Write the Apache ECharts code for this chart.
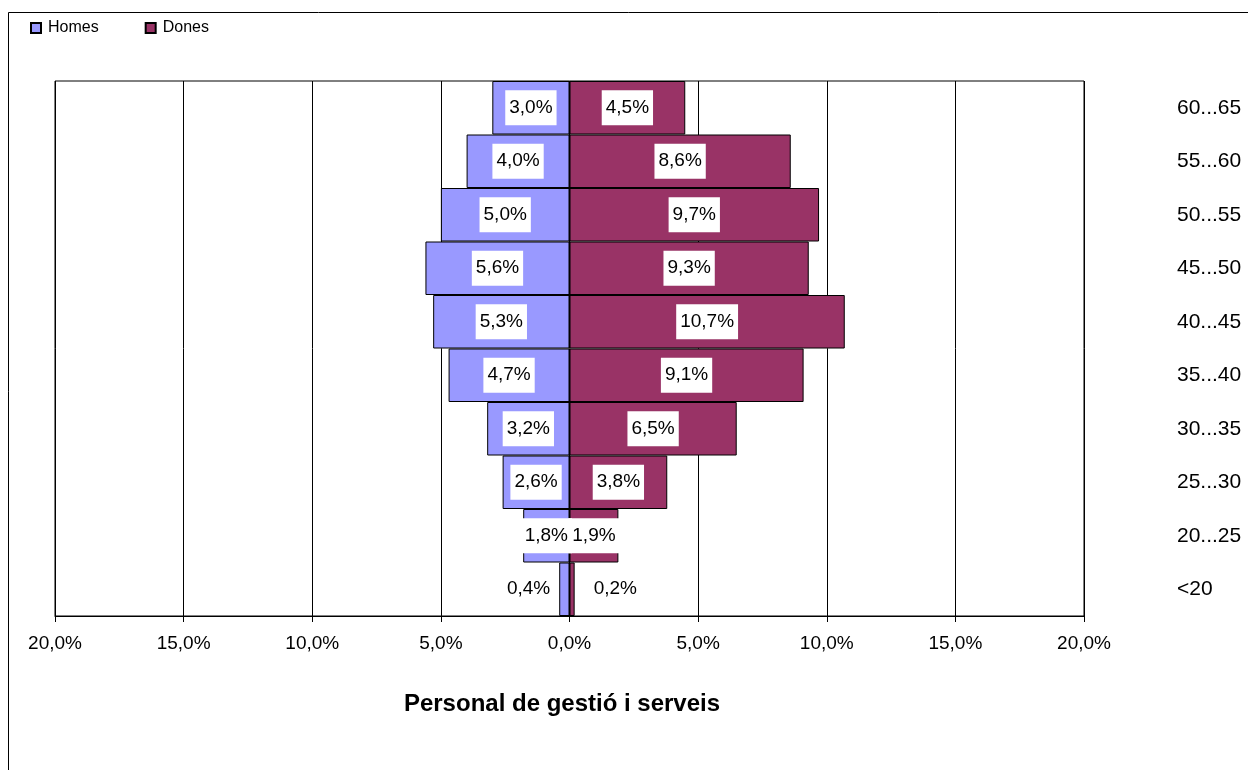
<!DOCTYPE html>
<html>
<head>
<meta charset="utf-8">
<script src="https://cdn.jsdelivr.net/npm/echarts@6/dist/echarts.min.js"></script>
<style>
html,body{margin:0;padding:0;background:#fff;}
#chart{width:1248px;height:770px;}
</style>
</head>
<body>
<div id="chart"></div>
<script>
// Age groups, bottom to top
var categories = ['<20', '20...25', '25...30', '30...35', '35...40', '40...45', '45...50', '50...55', '55...60', '60...65'];
// Percentages (Homes shown to the left, Dones to the right)
var homes = [0.4, 1.8, 2.6, 3.2, 4.7, 5.3, 5.6, 5.0, 4.0, 3.0];
var dones = [0.2, 1.9, 3.8, 6.5, 9.1, 10.7, 9.3, 9.7, 8.6, 4.5];
var xTicks = [-20, -15, -10, -5, 0, 5, 10, 15, 20];
var seriesNames = ['Homes', 'Dones'];
var titleText = 'Personal de gestió i serveis';

var FONT = 'Liberation Sans, Arial, sans-serif';
function pct(v) { return Math.abs(v).toFixed(1).replace('.', ',') + '%'; }

var chart = echarts.init(document.getElementById('chart'), null, {renderer: 'canvas'});

var labelBase = {
  show: true,
  position: 'inside',
  color: '#000',
  fontFamily: FONT,
  fontSize: 19,
  backgroundColor: '#fff',
  padding: [8, 4],
  formatter: function (p) { return pct(p.value); }
};

var homesData = homes.map(function (v, i) {
  var item = {value: -v};
  if (i === 0) item.label = {position: 'left', distance: 5, backgroundColor: 'transparent'};
  return item;
});
var donesData = dones.map(function (v, i) {
  var item = {value: v};
  if (i === 0) item.label = {position: 'right', distance: 15, backgroundColor: 'transparent'};
  return item;
});

var option = {
  backgroundColor: '#fff',
  animation: false,
  legend: {
    left: 25, top: 15,
    itemWidth: 10, itemHeight: 10,
    itemGap: 46,
    icon: 'rect',
    data: seriesNames,
    textStyle: {fontFamily: FONT, fontSize: 16, color: '#000', padding: [0, 0, 0, 2]}
  },
  grid: {
    left: 55, right: 164, top: 81, bottom: 154,
    show: true, borderColor: '#000', borderWidth: 1, backgroundColor: 'transparent'
  },
  xAxis: {
    type: 'value', min: xTicks[0], max: xTicks[xTicks.length - 1], interval: 5,
    axisLine: {show: true, onZero: false, lineStyle: {color: '#000', width: 1}},
    axisTick: {show: true, length: 6, lineStyle: {color: '#000'}},
    splitLine: {show: true, lineStyle: {color: '#000', width: 1}},
    axisLabel: {
      color: '#000', fontFamily: FONT, fontSize: 19, margin: 18,
      formatter: function (v) { return pct(v); }
    }
  },
  yAxis: {
    type: 'category', data: categories, position: 'right',
    axisLine: {show: false}, axisTick: {show: false},
    splitLine: {show: false},
    axisLabel: {color: '#000', fontFamily: FONT, fontSize: 21, align: 'left', margin: 93, padding: [4, 0, 0, 0]}
  },
  series: [
    {
      name: seriesNames[0], type: 'bar', stack: 'pyr',
      barCategoryGap: '0%',
      itemStyle: {color: '#9999FF', borderColor: '#000', borderWidth: 1},
      label: labelBase,
      data: homesData
    },
    {
      name: seriesNames[1], type: 'bar', stack: 'pyr',
      barCategoryGap: '0%',
      itemStyle: {color: '#993366', borderColor: '#000', borderWidth: 1},
      label: labelBase,
      data: donesData
    }
  ],
  graphic: [
    {type: 'rect', shape: {x: 8.5, y: 12.5, width: 1400, height: 900}, style: {fill: 'none', stroke: '#000', lineWidth: 1}, silent: true, z: 100},
    {type: 'text', x: 562, y: 704, style: {text: titleText, fontFamily: FONT, fontSize: 24, fontWeight: 'bold', fill: '#000', textAlign: 'center', textVerticalAlign: 'middle'}}
  ]
};
chart.setOption(option);
</script>
</body>
</html>
